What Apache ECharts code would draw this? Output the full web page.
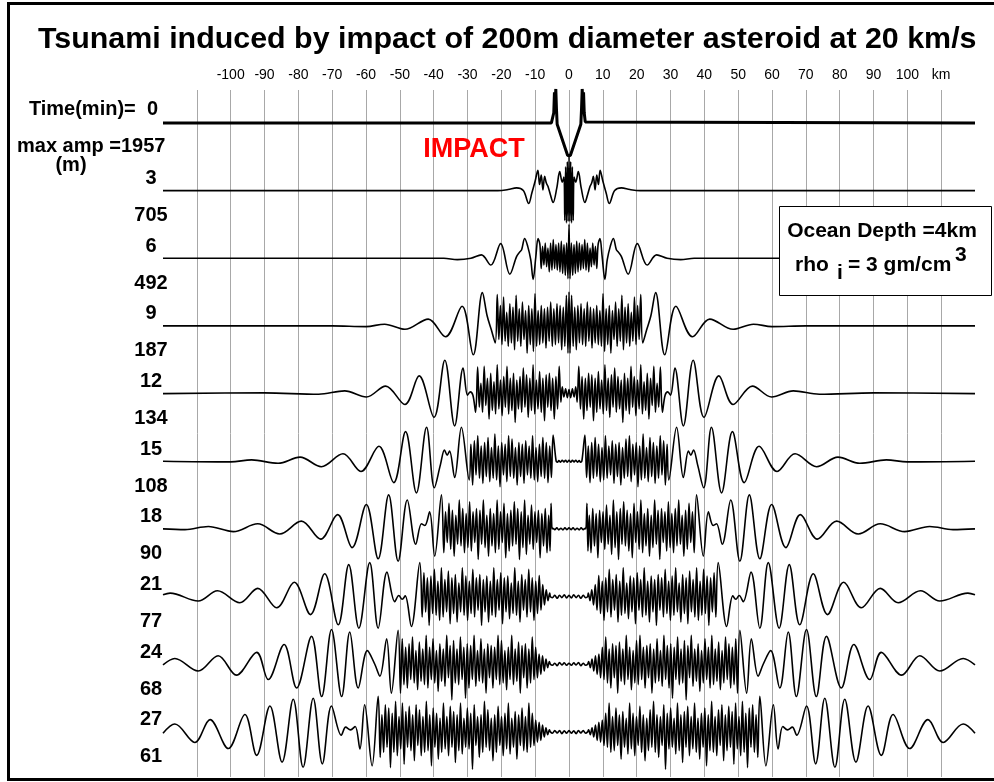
<!DOCTYPE html>
<html>
<head>
<meta charset="utf-8">
<script src="https://cdn.jsdelivr.net/npm/echarts@6/dist/echarts.min.js"></script>
<style>
  html, body { margin: 0; background: #fff; }
  #chart { width: 994px; height: 782px; }
</style>
</head>
<body>
<div id="chart"></div>
<script>
// ---- data ----
// snapshot times (min) and max amplitude of each trace (m)
const times = [0, 3, 6, 9, 12, 15, 18, 21, 24, 27];
const maxAmps = [1957, 705, 492, 187, 134, 108, 90, 77, 68, 61];

// Each trace is axisymmetric: profile vs distance r (km) from the impact,
// amplitude in % of the trace's max. waveNN = [r, amp] pairs read at extrema,
// burstNN = dense wiggles read evenly between spanNN[0] and spanNN[1].
const wave0 = [[0,-100],[0.4,-96],[3.5,-4],[3.7,40],[3.9,100],[4.1,55],[4.3,90],[4.5,30],[4.8,3],[5.2,0],[120,0]];

const wave3 = [[0,100],[0.25,-90],[0.5,85],[0.75,-95],[1.0,70],[1.25,-88],[1.5,40],[2.0,25],[2.75,56],[3.6,8],[4.7,-35],
  [5.5,-12],[6.2,12],[6.7,22],[7.2,42],[7.7,2],[8.2,46],[8.7,18],[9.2,60],[10,28],[11,-8],[11.9,-38],[13.5,0],[15.5,8],[18,3],[21,0],[120,0]];

const wave6 = [[0,100],[9.15,58],[9.8,5],[10.6,-62],[11.3,-5],[12.2,35],[13.1,58],[14,25],[14.6,18],[15.5,5],[17.5,-47],
  [20.2,43],[23.1,-20],[25.9,10],[29,0],[33,-4],[37,0],[120,0]];
const span6 = [0.3, 8.6];
const burst6 = [-60,45,-50,40,-45,50,-40,45,-35,40,-30,55,-35,45,-40,30,-25,45,-20,35,-30,40];

const wave9 = [[0,100],[21.8,-50],[23,-10],[24.2,30],[25.6,98],[28.3,-85],[31.6,58],[36.5,-32],[41.6,20],[48.5,-10],
  [54.5,5],[60,-2],[70,0],[120,0]];
const span9 = [0.3, 21.2];
const burst9 = [-80,90,-60,55,-70,60,-50,65,-55,50,-60,70,-45,55,-65,50,-50,60,-55,45,-60,95,-75,50,-55,60,-80,45,
  -40,70,-60,50,-45,90,-70,55,-50,65,-60,40,-45,85,-55,60,-40,92];

const wave12 = [[0,12],[0.5,-12],[1.0,14],[1.5,-10],[2.0,20],[2.4,-25],[27.6,-55],[28.4,-5],[29.2,5],[30,-5],[31.3,75],
  [33.8,-95],[36.7,98],[39.9,-70],[44.3,52],[48.5,-32],[54.2,22],[59.9,-10],[66.3,8],[74,-2],[90,2],[120,0]];
const span12 = [2.9, 27];
const burst12 = [80,-45,50,-75,45,-50,60,-40,55,-80,45,-55,65,-45,40,-60,85,-50,45,-70,55,-40,75,-55,50,-45,40,-85,
  60,-50,45,-60,80,-40,50,-65,40,-45,85,-60,35,-50,60,-75,45,-35,80,-55,30,-40,78];

const wave15 = [[0,3],[0.5,-3],[1,3],[1.5,-2],[2,3],[2.5,-3],[3,2],[3.4,-3],[3.8,0],[4.7,77],[5.2,-48],[31.8,100],
  [33.8,-48],[35.3,30],[36.0,18],[36.8,33],[38,-10],[39.8,-78],[42.1,100],[45.1,-93],[48.3,87],[51.8,-63],[56.2,44],
  [61.5,-30],[66.8,22],[73.2,-16],[79.5,12],[86,-6],[93.8,4],[100,-2],[120,0]];
const span15 = [5.7, 29.5];
const burst15 = [45,-63,55,-50,70,-45,50,-60,40,-55,75,-50,45,-40,60,-65,50,-45,55,-70,40,-50,65,-45,75,-60,50,-40,
  55,-75,45,-55,80,-50,40,-60,70,-45,55,-65,45,-50,75,-40,60,-70,50,-55];

const wave18 = [[0,3],[0.6,-2],[1.2,3],[1.8,-3],[2.4,2],[3,-3],[3.6,3],[4.2,-2],[4.8,2],[5.0,0],[5.3,75],[5.6,-65],
  [37.7,100],[39.7,-80],[41.2,50],[42.6,10],[43.6,15],[45.3,-45],[47.8,85],[50.5,-95],[53.3,100],[56.4,-88],[59.9,72],
  [64.1,-55],[68.4,42],[73.4,-30],[79.1,23],[85.5,-15],[92,15],[99.2,-8],[106.6,7],[113.5,-2],[120,0]];
const span18 = [6.0, 37.0];
const burst18 = [40,-70,60,-50,45,-85,55,-40,50,-60,70,-45,40,-75,85,-55,50,-90,60,-45,80,-50,55,-65,45,-85,75,-40,
  50,-60,85,-70,45,-50,60,-80,40,-55,85,-45,55,-90,60,-40,50,-65,80,-55,45,-70,60,-50,85,-45,40,-80,55,-60,75,-40,50,-70];

const wave21 = [[0,4],[0.7,-4],[1.4,5],[2.1,-3],[2.8,4],[3.5,-5],[4.2,4],[4.9,-3],[5.5,0],[44.1,100],[46.6,-88],
  [48.4,2],[49.3,-8],[50.3,3],[51.5,-15],[53.8,72],[56.4,-93],[58.9,100],[62.1,-93],[65.1,94],[68.2,-83],[72.2,67],
  [76.4,-53],[81.2,42],[86.4,-33],[92,24],[97.3,-18],[103.9,17],[109.6,-13],[117.9,10],[120,5]];
const span21 = [5.7, 43.4];
const burst21 = [10,-12,20,-25,35,-40,62,-50,45,-70,55,-45,80,-60,50,-40,65,-75,45,-55,85,-50,40,-65,60,-45,55,-80,
  70,-40,50,-60,85,-55,45,-75,60,-45,50,-85,65,-40,55,-60,80,-50,45,-70,60,-55,85,-45,40,-75,65,-50,55,-80,75,-45,
  50,-60,85,-70,45,-55,80,-50,60,-85,55,-45,70,-60];

const wave24 = [[0,3],[0.7,-3],[1.4,4],[2.1,-2],[2.8,5],[3.5,-4],[4.2,3],[4.9,-3],[5.5,0],[50.5,100],[52.5,-85],
  [53.9,75],[55.9,-35],[57.4,0],[59.6,40],[62.3,-70],[64.8,95],[67.2,-95],[70.2,102],[73.1,-95],[76.1,82],[80.5,-70],
  [84.2,58],[88.9,-45],[92.3,35],[98.3,-32],[103.7,25],[109.6,-20],[116.5,17],[120,-2]];
const span24 = [5.8, 49.8];
const burst24 = [8,-10,15,-20,25,-30,30,-40,50,-45,80,-55,45,-70,60,-40,55,-85,65,-50,45,-60,85,-45,50,-75,40,-55,
  70,-60,85,-45,50,-70,55,-40,60,-85,45,-55,75,-50,40,-65,85,-45,55,-70,60,-100,50,-45,80,-60,45,-55,70,-105,55,-40,
  85,-65,45,-50,60,-80,40,-55,75,-45,50,-70,85,-60,45,-50,65,-75,40,-55,80,-45,60,-70,50,-60,75,-85];

const wave27 = [[0,4],[0.7,-4],[1.4,3],[2.1,-5],[2.8,4],[3.5,-3],[4.2,4],[4.9,-4],[5.5,0],[56.4,105],[58.2,-100],
  [60.4,80],[61.8,-50],[63.2,16],[64.6,6],[66,14],[67.3,-10],[70.2,76],[72.9,-94],[75.6,99],[78.6,-104],[81.5,96],
  [84.8,-89],[88.4,76],[92.3,-69],[95.8,51],[100.7,-49],[106.1,36],[110.6,-31],[116.5,23],[120,-4]];
const span27 = [5.8, 55.8];
const burst27 = [6,-8,12,-15,20,-25,28,-30,35,-40,55,-45,85,-60,45,-55,70,-40,50,-80,60,-45,40,-65,85,-50,55,-70,
  45,-40,75,-60,50,-85,40,-55,65,-45,90,-60,50,-75,45,-40,80,-110,55,-50,70,-45,40,-65,85,-55,50,-90,60,-45,75,-70,
  45,-50,85,-60,40,-80,55,-45,70,-100,50,-55,90,-60,45,-70,65,-40,80,-85,50,-55,75,-45,60,-95,85,-50,45,-70,90,-60,
  55,-105,70,-45,80,-60,50,-75];

const traces = [
  { wave: wave0 },
  { wave: wave3 },
  { wave: wave6, span: span6, burst: burst6 },
  { wave: wave9, span: span9, burst: burst9 },
  { wave: wave12, span: span12, burst: burst12 },
  { wave: wave15, span: span15, burst: burst15 },
  { wave: wave18, span: span18, burst: burst18 },
  { wave: wave21, span: span21, burst: burst21 },
  { wave: wave24, span: span24, burst: burst24 },
  { wave: wave27, span: span27, burst: burst27 },
];

// ---- layout ----
const FONT = '"Liberation Sans", Arial, Helvetica, sans-serif';
const AMP_SCALE = 0.01507;   // 100% of trace max -> minutes on the time axis

function buildProfile(tr) {
  const pts = tr.wave.slice();
  if (tr.burst && tr.burst.length) {
    const step = (tr.span[1] - tr.span[0]) / (tr.burst.length - 1);
    tr.burst.forEach((a, i) => pts.push([tr.span[0] + i * step, a]));
  }
  pts.sort((p, q) => p[0] - q[0]);
  const left = pts.filter(p => p[0] > 0).map(p => [-p[0], p[1]]).reverse();
  return left.concat(pts);
}

const chart = echarts.init(document.getElementById('chart'), null, { renderer: 'canvas' });

const series = traces.map((tr, i) => ({
  type: 'line',
  symbol: 'none',
  smooth: i === 0 ? false : 0.35,
  silent: true,
  animation: false,
  lineStyle: { color: '#000', width: i === 0 ? 3 : 1.6 },
  data: buildProfile(tr).map(([r, a]) => [r, times[i] - a * AMP_SCALE]),
  z: 3,
}));

chart.setOption({
  animation: false,
  backgroundColor: '#fff',
  title: {
    text: 'Tsunami induced by impact of 200m diameter asteroid at 20 km/s',
    left: 33,
    top: 20,
    textStyle: { fontSize: 30.4, fontWeight: 'bold', color: '#000', fontFamily: FONT },
  },
  grid: { left: 163, right: 19, top: 90, bottom: 5, containLabel: false },
  xAxis: {
    type: 'value',
    position: 'top',
    min: -120,
    max: 120,
    interval: 10,
    axisLine: { show: false },
    axisTick: { show: false },
    axisLabel: {
      margin: 8,
      fontSize: 14,
      color: '#000',
      fontFamily: FONT,
      formatter: v => (v === 110 ? 'km' : (Math.abs(v) > 100 ? '' : String(v))),
    },
    splitLine: { show: true, showMinLine: false, showMaxLine: false, lineStyle: { color: '#a8a8a8', width: 1 } },
  },
  yAxis: {
    type: 'value',
    inverse: true,
    min: -1.46,
    max: 29,
    show: false,
    splitLine: { show: false },
  },
  series: series,
});

// ---- labels, frame and info box ----
const graphics = [];
const bold = size => 'bold ' + size + 'px ' + FONT;

times.forEach((t, i) => {
  const y = chart.convertToPixel({ yAxisIndex: 0 }, t);
  if (i === 0) {
    graphics.push({ type: 'text', z: 10, style: { text: 'Time(min)=  0', x: 158, y: y - 13, font: bold(20), fill: '#000', textAlign: 'right', textVerticalAlign: 'middle' } });
    graphics.push({ type: 'text', z: 10, style: { text: 'max amp =' + maxAmps[i], x: 17, y: y + 24, font: bold(20), fill: '#000', textAlign: 'left', textVerticalAlign: 'middle' } });
    graphics.push({ type: 'text', z: 10, style: { text: '(m)', x: 71, y: y + 43, font: bold(20), fill: '#000', textAlign: 'center', textVerticalAlign: 'middle' } });
  } else {
    graphics.push({ type: 'text', z: 10, style: { text: String(t), x: 151, y: y - 12, font: bold(20), fill: '#000', textAlign: 'center', textVerticalAlign: 'middle' } });
    graphics.push({ type: 'text', z: 10, style: { text: String(maxAmps[i]), x: 151, y: y + 25, font: bold(20), fill: '#000', textAlign: 'center', textVerticalAlign: 'middle' } });
  }
});

graphics.push({ type: 'text', z: 10, style: { text: 'IMPACT', x: 474, y: 150, font: bold(27), fill: '#ff0000', textAlign: 'center', textVerticalAlign: 'middle' } });

// info box
graphics.push({ type: 'rect', z: 20, shape: { x: 779.5, y: 206.5, width: 212, height: 89 }, style: { fill: '#fff', stroke: '#000', lineWidth: 1 } });
graphics.push({ type: 'text', z: 21, style: { text: 'Ocean Depth =4km', x: 882, y: 231, font: bold(21), fill: '#000', textAlign: 'center', textVerticalAlign: 'middle' } });
graphics.push({ type: 'text', z: 21, style: { text: 'rho', x: 795, y: 265, font: bold(21), fill: '#000', textAlign: 'left', textVerticalAlign: 'middle' } });
graphics.push({ type: 'text', z: 21, style: { text: 'i', x: 837, y: 273, font: bold(21), fill: '#000', textAlign: 'left', textVerticalAlign: 'middle' } });
graphics.push({ type: 'text', z: 21, style: { text: '= 3 gm/cm', x: 848, y: 265, font: bold(21), fill: '#000', textAlign: 'left', textVerticalAlign: 'middle' } });
graphics.push({ type: 'text', z: 21, style: { text: '3', x: 955, y: 255, font: bold(21), fill: '#000', textAlign: 'left', textVerticalAlign: 'middle' } });

// outer frame
graphics.push({ type: 'rect', z: 30, silent: true, shape: { x: 8.5, y: 3.5, width: 1000, height: 776 }, style: { fill: 'none', stroke: '#000', lineWidth: 3 } });

chart.setOption({ graphic: graphics });
</script>
</body>
</html>
